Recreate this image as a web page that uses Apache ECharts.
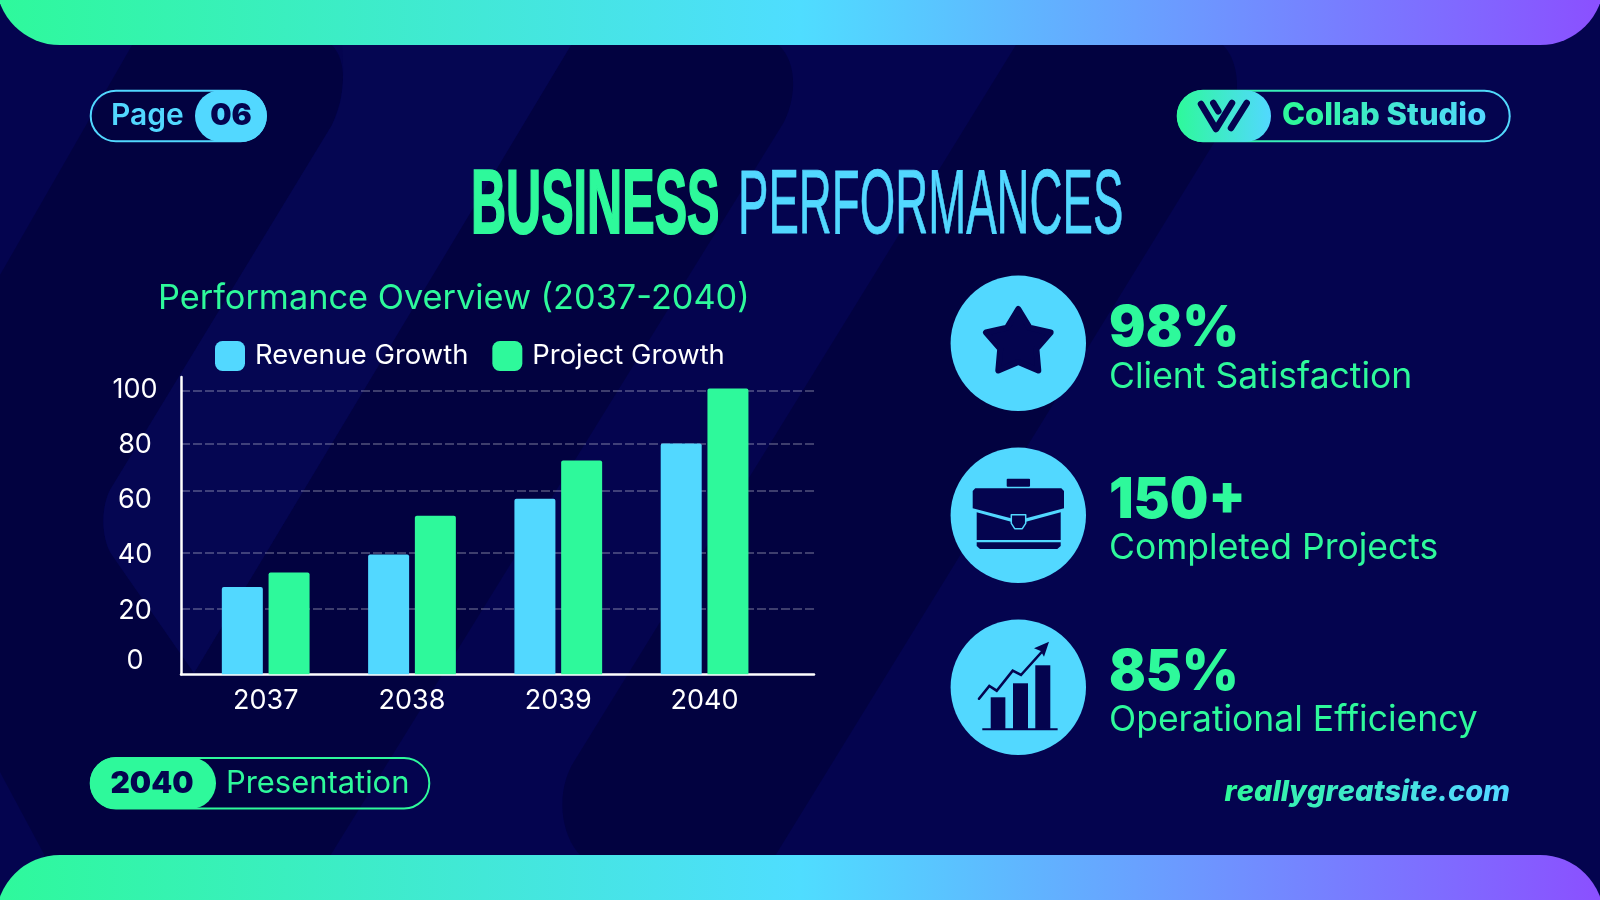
<!DOCTYPE html>
<html><head><meta charset="utf-8">
<style>html,body{margin:0;padding:0;background:#03034e}#c{width:1600px;height:900px}</style>
<script src="https://cdn.jsdelivr.net/npm/echarts@6/dist/echarts.min.js"></script>
</head><body><div id="c"></div>
<script>
const years = [2037, 2038, 2039, 2040];
const revenueGrowth = [30.5, 41.9, 61.4, 80.7];
const projectGrowth = [35.6, 55.5, 74.8, 100];
const yTickLabels = ['0', '20', '40', '60', '80', '100'];
const yLabelValues = [4.7, 22.2, 41.8, 61, 80.3, 99.5];
const gridLineValues = [22.8, 42.4, 64.3, 80.7, 99.3];

const GREEN = '#2EF99B', BLUE = '#52D8FF', NAVY = '#04044F', DARK = '#020240';
const chart = echarts.init(document.getElementById('c'), null, {renderer: 'canvas'});

let shapeCount = 0;
const P = (d, style, z) => {
  const name = 'iconPath' + (shapeCount++);
  echarts.graphic.registerShape(name, echarts.graphic.extendPath(d, {}));
  return {type: name, silent: true, z: z === undefined ? 0 : z, style};
};
const T = (text, x, y, font, fill, align, extra) => Object.assign({type: 'text', silent: true, z: 5, x, y,
  style: Object.assign({text, font, fill, textAlign: align || 'left', textVerticalAlign: 'middle'}, (extra && extra.styleExtra) || {})},
  extra ? {scaleX: extra.scaleX === undefined ? 1 : extra.scaleX} : {});
// text running from green to blue, one colour per letter
function gradT(text, x, y, font, align) {
  const rich = {}, n = text.length - 1;
  const a = [0x2E, 0xF9, 0x9B], b = [0x52, 0xD8, 0xFF];
  const body = text.split('').map((ch, i) => {
    const c = a.map((v, k) => Math.round(v + (b[k] - v) * i / n));
    rich['c' + i] = {font, fill: 'rgb(' + c.join(',') + ')'};
    return '{c' + i + '|' + ch + '}';
  }).join('');
  return {type: 'text', silent: true, z: 5, x, y, style: {text: body, rich, font, textAlign: align || 'left', textVerticalAlign: 'middle'}};
}
const R = (x, y, width, height, r, style, z) => ({type: 'rect', silent: true, z: z === undefined ? 3 : z, shape: {x, y, width, height, r}, style});
const lin = (stops) => ({type: 'linear', x: 0, y: 0, x2: 1, y2: 0, colorStops: stops.map((c, i) => ({offset: i / (stops.length - 1), color: c}))});
const barGrad = lin([GREEN, '#4FDDFF', '#8B4FFF']);
const pillGrad = lin([GREEN, BLUE]);
const SANS = 'Inter, "Liberation Sans", sans-serif';

const zx = v => (930 + v / 3).toFixed(1), zy = v => (260 + v / 3).toFixed(1);
const Z = pts => pts.map((p, i) => (i ? 'L' : 'M') + zx(p[0]) + ' ' + zy(p[1])).join('') ;
function star(cx, cy, R1, R2) {
  let d = '';
  for (let i = 0; i < 10; i++) {
    const a = -Math.PI / 2 + i * Math.PI / 5, r = i % 2 ? R2 : R1;
    d += (i ? 'L' : 'M') + (cx + r * Math.cos(a)).toFixed(1) + ' ' + (cy + r * Math.sin(a)).toFixed(1);
  }
  return d + 'Z';
}

const bg = [
  {type: 'rect', silent: true, z: 0, shape: {x: 0, y: 0, width: 1600, height: 900}, style: {fill: NAVY}},
  P('M135 40L325 40C345 50 350 85 332 125L110 490C100 510 102 540 112 555L194 673L571 45L571 40L770 40C795 50 800 90 784 122L330 856L45 856L0 772L0 275Z', {fill: DARK}, 0),
  P('M1019 40L1215 40C1240 50 1243 100 1228 120L775 856L581 856C560 835 555 790 575 760Z', {fill: DARK}, 0),
  P('M342 45L571 45L194 673L112 555C102 540 100 510 110 490L332 125C342 105 345 85 342 45Z', {fill: '#050652'}, 0),
  R(-4, -90, 1608, 135, 64, {fill: barGrad}, 1),
  R(-4, 855, 1608, 135, 64, {fill: barGrad}, 1),
  R(90.7, 90.7, 175, 50.6, 25.3, {fill: 'transparent', stroke: BLUE, lineWidth: 2}),
  R(195, 90, 72, 52, 26, {fill: BLUE}),
  T('Page', 111, 116, '600 30px ' + SANS, BLUE),
  T('06', 231, 116, '900 30px ' + SANS, NAVY, 'center'),
  R(1177.7, 90.7, 332, 50.6, 25.3, {fill: 'transparent', stroke: pillGrad, lineWidth: 2}),
  R(1177, 90, 94, 52, 26, {fill: pillGrad}),
  P('M1201 104L1216 129L1232 103M1213.3 103L1218.3 111.3M1246.7 103L1231 128', {fill: 'none', stroke: NAVY, lineWidth: 6.5, lineCap: 'round', lineJoin: 'round'}, 4),
  gradT('Collab Studio', 1282, 116, '800 31px ' + SANS),
  T('BUSINESS', 471, 208.5, 'bold 90px "Liberation Sans"', GREEN, 'left', {scaleX: 0.54, styleExtra: {stroke: GREEN, lineWidth: 2}}),
  T('PERFORMANCES', 738, 208.5, '400 90px "Liberation Sans"', BLUE, 'left', {scaleX: 0.507, styleExtra: {stroke: BLUE, lineWidth: 0.8}}),
  R(90.7, 758, 338.6, 50.4, 25.2, {fill: 'transparent', stroke: GREEN, lineWidth: 2}),
  R(90, 757.3, 126, 51.7, 25.8, {fill: GREEN}),
  T('2040', 152, 784, '900 30px ' + SANS, NAVY, 'center'),
  T('Presentation', 226, 784, '400 30.9px ' + SANS, GREEN),
  gradT('reallygreatsite.com', 1510, 792, 'italic 800 29px ' + SANS, 'right'),
  {type: 'circle', silent: true, z: 3, shape: {cx: 1018.3, cy: 343.3, r: 67.7}, style: {fill: BLUE}},
  {type: 'circle', silent: true, z: 3, shape: {cx: 1018.3, cy: 515.3, r: 67.7}, style: {fill: BLUE}},
  {type: 'circle', silent: true, z: 3, shape: {cx: 1018.3, cy: 687.3, r: 67.7}, style: {fill: BLUE}},
  P(star(1018.3, 343, 34, 19), {fill: NAVY, stroke: NAVY, lineWidth: 6, lineJoin: 'round'}, 4),
  R(+zx(230), +zy(656), 70 / 3, 24 / 3, 1, {fill: NAVY}, 4),
  P(Z([[128, 693], [136, 685], [394, 685], [402, 693], [402, 745], [288, 775], [243, 775], [128, 745]]) + 'Z', {fill: NAVY}, 4),
  P(Z([[140, 757], [243, 785], [288, 785], [392, 757], [392, 840], [140, 840]]) + 'Z', {fill: NAVY}, 4),
  P(Z([[140, 847], [392, 847], [392, 858], [382, 867], [150, 867], [140, 858]]) + 'Z', {fill: NAVY}, 4),
  P(Z([[244, 764], [287, 764], [287, 790], [277, 806], [254, 806], [244, 790]]) + 'Z', {fill: NAVY, stroke: BLUE, lineWidth: 1.5, lineJoin: 'round'}, 4),
  R(+zx(182), +zy(1312), 44 / 3, 95 / 3, 0, {fill: NAVY}, 4),
  R(+zx(249), +zy(1270), 45 / 3, 137 / 3, 0, {fill: NAVY}, 4),
  R(+zx(316), +zy(1216), 45 / 3, 191 / 3, 0, {fill: NAVY}, 4),
  R(+zx(157), +zy(1405), 226 / 3, 2, 0, {fill: NAVY}, 4),
  P(Z([[147, 1316], [178, 1278], [200, 1292], [248, 1232], [273, 1245], [335, 1176]]), {fill: 'none', stroke: NAVY, lineWidth: 2.6, lineCap: 'round'}, 4),
  P(Z([[357, 1145], [342, 1190], [332, 1173], [312, 1165]]) + 'Z', {fill: NAVY}, 4),
  T('98%', 1109, 329, '900 56px ' + SANS, GREEN, 'left', {scaleX: 0.97}),
  T('Client Satisfaction', 1109, 377, '400 35.5px ' + SANS, GREEN),
  T('150+', 1109, 501, '900 56px ' + SANS, GREEN, 'left', {scaleX: 0.97}),
  T('Completed Projects', 1109, 548, '400 35.5px ' + SANS, GREEN),
  T('85%', 1109, 673, '900 56px ' + SANS, GREEN, 'left', {scaleX: 0.97}),
  T('Operational Efficiency', 1109, 720, '400 35.5px ' + SANS, GREEN)
];

const option = {
  backgroundColor: NAVY,
  animation: false,
  textStyle: {fontFamily: SANS},
  graphic: {elements: bg},
  title: {text: 'Performance Overview (2037-2040)', left: 153, top: 277,
    textStyle: {color: GREEN, fontSize: 34.3, fontWeight: 400, fontFamily: SANS}},
  legend: {left: 210, top: 336, itemWidth: 30, itemHeight: 30, itemGap: 24, icon: 'roundRect',
    textStyle: {color: '#FFFFFF', fontSize: 27.4, fontFamily: SANS, padding: [0, 0, 0, 5]},
    data: ['Revenue Growth', 'Project Growth']},
  grid: {left: 181, right: 786, top: 377, bottom: 225.7, containLabel: false},
  xAxis: {type: 'value', min: 2036.421, max: 2040.748, splitLine: {show: false},
    axisLine: {onZero: false, lineStyle: {color: '#FFFFFF', width: 2.5}},
    axisTick: {show: false, customValues: years},
    axisLabel: {customValues: years, color: '#FFFFFF', fontSize: 27, margin: 13, formatter: v => String(Math.round(v))}},
  yAxis: {type: 'value', min: 0, max: 104,
    axisLine: {show: true, onZero: false, lineStyle: {color: '#FFFFFF', width: 2.5}},
    axisTick: {show: false, customValues: gridLineValues},
    splitLine: {show: true, lineStyle: {color: 'rgba(255,255,255,0.32)', type: [9, 3], width: 1.5}},
    axisLabel: {customValues: yLabelValues, color: '#FFFFFF', fontSize: 27, align: 'center', margin: 46,
      formatter: (v) => yTickLabels[yLabelValues.indexOf(v)]}},
  series: [
    {name: 'Revenue Growth', type: 'bar', barWidth: 41, barGap: '14%', itemStyle: {color: BLUE, borderRadius: [2, 2, 0, 0]},
      data: years.map((y, i) => [y, revenueGrowth[i]])},
    {name: 'Project Growth', type: 'bar', barWidth: 41, barGap: '14%', itemStyle: {color: GREEN, borderRadius: [2, 2, 0, 0]},
      data: years.map((y, i) => [y, projectGrowth[i]])}
  ]
};
chart.setOption(option);
</script></body></html>
